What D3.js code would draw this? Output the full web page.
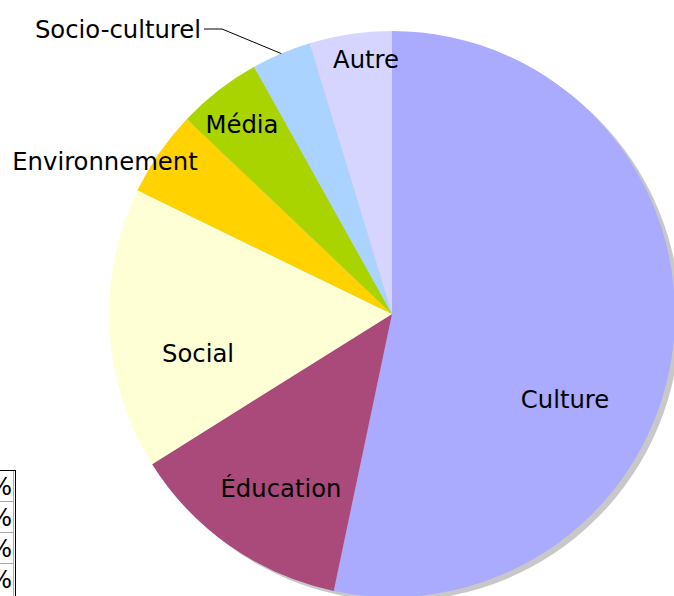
<!DOCTYPE html>
<html>
<head>
<meta charset="utf-8">
<script src="https://cdn.jsdelivr.net/npm/d3@7"></script>
<style>
  body { margin: 0; background: #fff; }
  svg { display: block; font-family: "DejaVu Sans", Verdana, sans-serif; }
</style>
</head>
<body>
<svg id="pie"></svg>
<script>
const width = 674;
const height = 596;

// data (share in %)
const categories = ['Culture', 'Éducation', 'Social', 'Environnement', 'Média', 'Socio-culturel', 'Autre'];
const values = [53.3, 12.8, 16.1, 4.9, 4.8, 3.4, 4.7];
const colours = ['#aaaaff', '#aa4a7a', '#ffffd5', '#ffd200', '#aad400', '#aad4ff', '#d5d5ff'];
const tableRows = ['53,3 %', '12,8 %', '16,1 %', '4,9 %'];

// label offsets from the pie centre (hand placed like the original)
const labelOffset = [[173, 94], [-111, 183], [-194, 48], [-287, -144], [-150, -181], [-191, -276], [-26, -246]];

const cx = 392, cy = 314, radius = 283;

const svg = d3.select('#pie')
    .attr('width', width)
    .attr('height', height);

const pie = d3.pie().sort(null).value(d => d)(values);
const arc = d3.arc().innerRadius(0).outerRadius(radius);

// drop shadow
svg.append('circle')
    .attr('cx', cx + 5)
    .attr('cy', cy + 4)
    .attr('r', radius)
    .attr('fill', '#c8c8c8');

const g = svg.append('g').attr('transform', `translate(${cx},${cy})`);

g.selectAll('path')
  .data(pie)
  .enter()
    .append('path')
      .attr('d', arc)
      .attr('fill', (d, i) => colours[i]);

g.selectAll('text.label')
  .data(pie)
  .enter()
    .append('text')
      .attr('class', 'label')
      .attr('x', (d, i) => labelOffset[i][0])
      .attr('y', (d, i) => labelOffset[i][1])
      .attr('text-anchor', (d, i) => categories[i] === 'Socio-culturel' ? 'end' : 'middle')
      .attr('font-size', 24.3)
      .attr('fill', '#000')
      .text((d, i) => categories[i]);

// leader line for the small slice
const si = categories.indexOf('Socio-culturel');
const mid = (pie[si].startAngle + pie[si].endAngle) / 2;
const lx = labelOffset[si][0] + 3, ly = labelOffset[si][1] - 9;
g.append('path')
    .attr('d', d3.line()([[lx, ly], [lx + 18, ly], [radius * Math.sin(mid), -radius * Math.cos(mid)]]))
    .attr('fill', 'none')
    .attr('stroke', '#000')
    .attr('stroke-width', 1);

// table cut off at the bottom left
const rowH = 31, tableTop = 470;
const table = svg.append('g');
table.selectAll('line.row')
  .data(tableRows.slice(1))
  .enter()
    .append('line')
      .attr('x1', 0).attr('x2', 13)
      .attr('y1', (d, i) => tableTop + rowH * (i + 1) + 0.5)
      .attr('y2', (d, i) => tableTop + rowH * (i + 1) + 0.5)
      .attr('stroke', '#aaa');
table.append('line')
    .attr('x1', 13.5).attr('x2', 13.5).attr('y1', tableTop).attr('y2', height)
    .attr('stroke', '#aaa');
table.append('line')
    .attr('x1', 0).attr('x2', 16).attr('y1', tableTop + 0.5).attr('y2', tableTop + 0.5)
    .attr('stroke', '#000');
table.append('line')
    .attr('x1', 15.5).attr('x2', 15.5).attr('y1', tableTop).attr('y2', height)
    .attr('stroke', '#000');
table.selectAll('text')
  .data(tableRows)
  .enter()
    .append('text')
      .attr('x', 12)
      .attr('y', (d, i) => tableTop + rowH * i + 25)
      .attr('text-anchor', 'end')
      .attr('font-size', 24)
      .text(d => d);
</script>
</body>
</html>
